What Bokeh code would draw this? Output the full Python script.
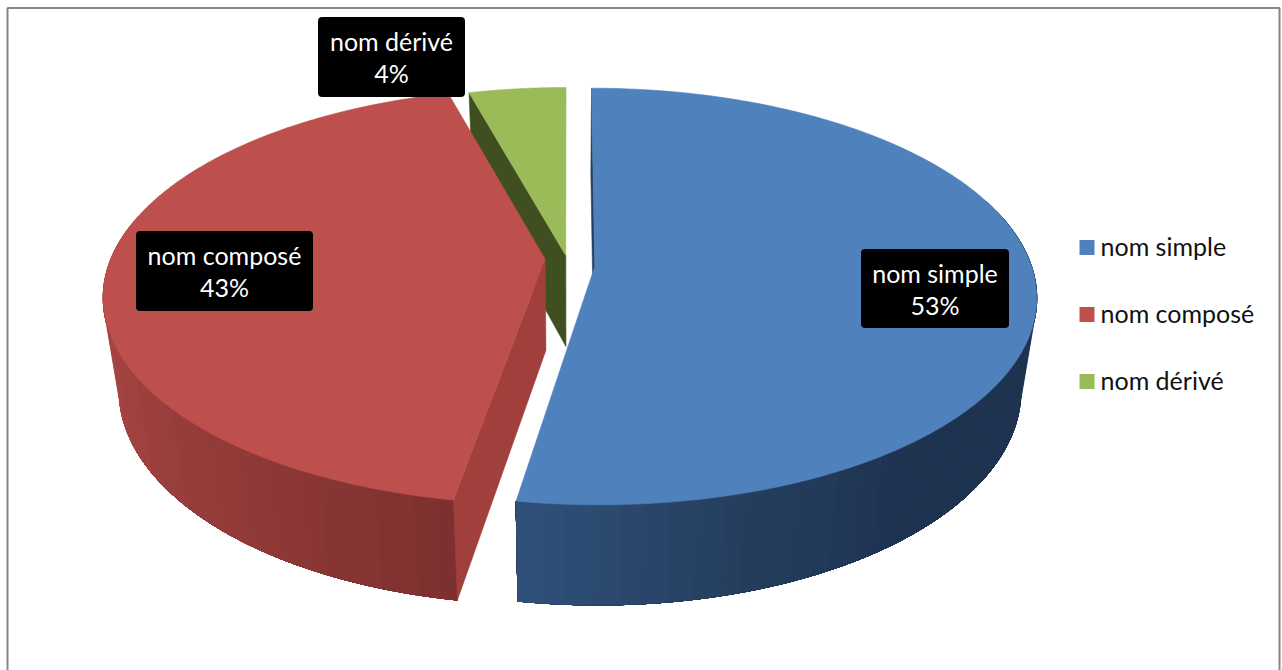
import numpy as np
from bokeh.plotting import figure
from bokeh.models import Range1d
from bokeh.core.properties import value
from bokeh.embed import file_html
from bokeh.resources import INLINE

# ---- data
categories = ["nom simple", "nom composé", "nom dérivé"]
shares = [52.6, 43.2, 4.2]
share_labels = ["53%", "43%", "4%"]

# ---- style / layout
top_colors = ["#4f81bd", "#bd4f4c", "#9bbb59"]
legend_colors = ["#4f81bd", "#c0504d", "#9bbb59"]
explode = [0.058, 0.056, 0.03]
radius_scale = [1.0, 1.0, 0.97]
start_nudge = [0.0, 0.55, 0.0]  # degrees: apparent shift of a slice's first edge
apex_lift = [0.0, 7.0, 4.0]     # px: the exploded apexes sit a little higher
slice_shift_x = [0.0, 0.0, -2.0]
start_angle = 0.0
cx, cy, RX, RY, K = 569.0, 265.0, 436.5, 203.7, 0.144
FONT = value("Lato")

W, H = 1282, 670
p = figure(width=W, height=H, output_backend="svg", toolbar_location=None,
           x_range=Range1d(0, W), y_range=Range1d(H, 0),
           min_border=0, outline_line_color=None, background_fill_color="white")
p.xaxis.visible = False
p.yaxis.visible = False
p.grid.visible = False


def project(u, v):
    d = 1 - K * v
    return cx + RX * u / d, cy + RY * v / d


def lower(x, y):
    """Bottom plane of the disc, below the top plane."""
    x = np.asarray(x, float)
    y = np.asarray(y, float)
    return 570 + 0.966 * (x - 570), y + 85 + 15 * (y - 89) / 411


def mix(stops, t):
    ts = [s[0] for s in stops]
    chans = [np.interp(t, ts, [int(s[1][i:i + 2], 16) for s in stops]) for i in (1, 3, 5)]
    return "#%02x%02x%02x" % tuple(int(round(c)) for c in chans)


def slice_geom(i, a0, a1, n=240):
    a0 = a0 + start_nudge[i]
    mid = np.radians((a0 + a1) / 2)
    au, av = explode[i] * np.sin(mid), -explode[i] * np.cos(mid)
    th = np.radians(np.linspace(a0, a1, n))
    ru = au + radius_scale[i] * np.sin(th)
    rv = av - radius_scale[i] * np.cos(th)
    ax, ay = project(au, av)
    rx, ry = project(ru, rv)
    dx = slice_shift_x[i]
    return ax + dx, ay - apex_lift[i], rx + dx, ry, np.degrees(th)


def fill(xs, ys, color):
    p.patch(list(xs), list(ys), fill_color=color, line_color=color, line_width=0.6)


def cut_face(ax, ay, rx, ry, color):
    bax, bay = lower(ax, ay)
    brx, bry = lower(rx, ry)
    fill([rx, ax, bax, brx], [ry, ay, bay, bry], color)


def wall(rx, ry, th, a_far, a_near, stops, bands=40):
    """Painter's order: every band also covers all nearer ones, so no seams show."""
    edges = np.linspace(a_far, a_near, bands + 1)
    lo, hi = min(a_far, a_near), max(a_far, a_near)
    for e0, e1 in zip(edges[:-1], edges[1:]):
        if a_far < a_near:
            m = (th >= e0) & (th <= hi)
        else:
            m = (th <= e0) & (th >= lo)
        if m.sum() < 2:
            continue
        x, y = rx[m], ry[m]
        bx, by = lower(x, y)
        fill(np.r_[x, bx[::-1]], np.r_[y, by[::-1]], mix(stops, (e0 + e1) / 2))


def top_face(ax, ay, rx, ry, color):
    fill(np.r_[ax, rx], np.r_[ay, ry], color)


# ---- slice angles from the shares
edges = start_angle + np.r_[0, np.cumsum(shares)] * 3.6
blue = slice_geom(0, edges[0], edges[1])
red = slice_geom(1, edges[1], edges[2])
green = slice_geom(2, edges[2], edges[3])

# frame
p.quad(left=[7.0], right=[1279.0], top=[7.5], bottom=[720], fill_color=None,
       line_color="#878787", line_width=2)

# green slice (farthest)
cut_face(green[0], green[1], green[2][0], green[3][0], "#3f4f20")
top_face(*green[:4], top_colors[2])

# blue start edge (thin sliver)
cut_face(blue[0], blue[1], blue[2][0], blue[3][0], "#24405f")

# red slice
red_stops = [(185, "#792e2d"), (215, "#8e3937"), (245, "#a04240"), (275, "#b34c49")]
wall(red[2], red[3], red[4], 285, edges[1] + start_nudge[1], red_stops)
cut_face(red[0], red[1], red[2][0], red[3][0], "#a03f3c")
top_face(*red[:4], top_colors[1])

# blue slice
blue_stops = [(70, "#1e3350"), (140, "#1e3350"), (165, "#263f60"), (190, "#31527c")]
wall(blue[2], blue[3], blue[4], 70, edges[1], blue_stops)
top_face(*blue[:4], top_colors[0])

# data labels: black boxes with two centred lines
box_left = [861, 136, 318]
box_right = [1008, 312, 464]
box_top = [249, 231, 17]
box_bottom = [327, 310, 96]
p.quad(left=box_left, right=box_right, top=box_top, bottom=box_bottom,
       fill_color="black", line_color="black", line_width=1, border_radius=3)
centres = [(l + r) / 2 for l, r in zip(box_left, box_right)]
p.text(x=centres, y=[t + 23 for t in box_top], text=categories, text_color="white",
       text_font=FONT, text_font_size="25px", text_align="center", text_baseline="middle")
p.text(x=centres, y=[t + 55 for t in box_top], text=share_labels, text_color="white",
       text_font=FONT, text_font_size="25px", text_align="center", text_baseline="middle")

# legend
legend_y = [247, 314, 381]
p.scatter(x=[1086.5] * 3, y=legend_y, marker="square", size=15, fill_color=legend_colors,
          line_color=None)
p.text(x=[1100] * 3, y=[y - 2 for y in legend_y], text=categories, text_color="#111111",
       text_font=FONT, text_font_size="25px", text_align="left", text_baseline="middle")

open("out.html", "w").write(file_html(p, INLINE))
